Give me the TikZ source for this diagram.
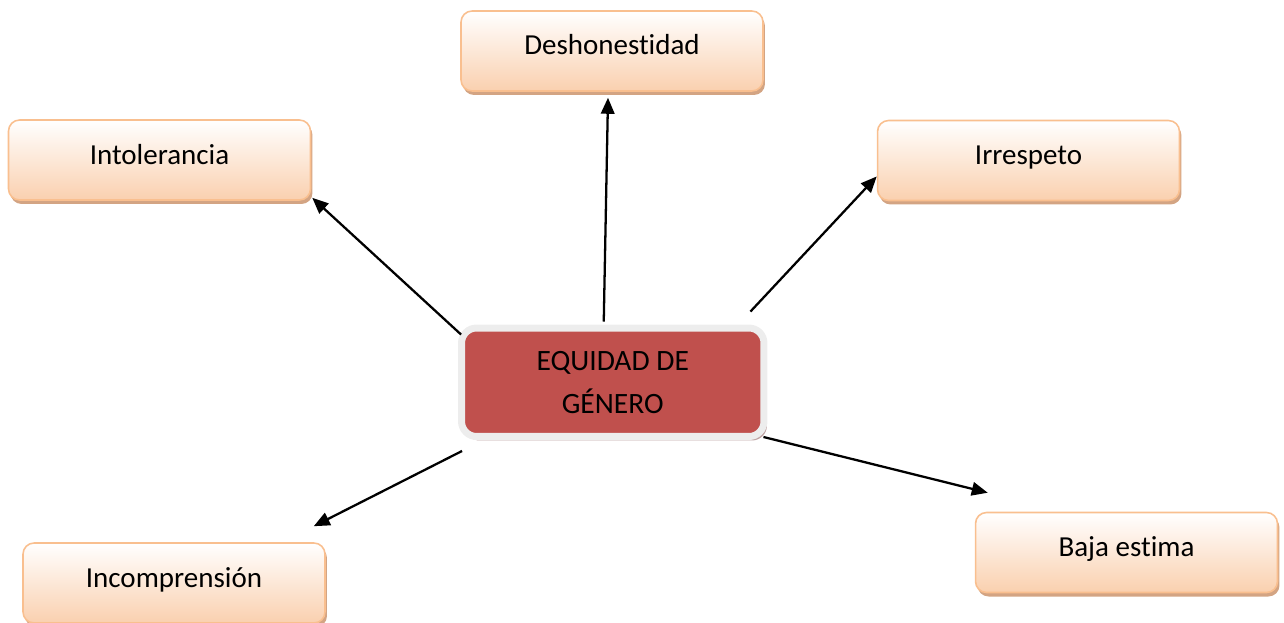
\documentclass[tikz,border=0pt]{standalone}
\usepackage{fontspec}
\setmainfont{Carlito}[Ligatures=NoCommon]
\usetikzlibrary{
	arrows.meta,
	shadows
}
\definecolor{peach}{HTML}{FAD0AF}
\definecolor{peachline}{HTML}{F9BF8F}
\definecolor{peachshadow}{HTML}{D3A483}
\definecolor{corered}{HTML}{C0504D}
\definecolor{coreshadow}{HTML}{BFA3A3}

\begin{document}
\begin{tikzpicture}[
	x = 0.02cm, y = -0.02cm,
	effect/.style = {
		rectangle, draw=peachline, line width=0.9pt,
		rounded corners=0.22cm,
		top color=white, bottom color=peach,
		minimum width=6.04cm, minimum height=1.6cm,
		text height=0.5cm, text depth=0.34cm,
		font=\fontsize{16.5}{20}\selectfont,
		drop shadow={shadow xshift=0.04cm, shadow yshift=-0.08cm,
			fill=peachshadow, opacity=1}
	},
	core/.style = {
		rectangle, draw=black!7, line width=0.14cm,
		rounded corners=0.3cm, fill=corered,
		minimum width=6.05cm, minimum height=2.17cm,
		align=center,
		font=\fontsize{16.8}{24.5}\selectfont,
		drop shadow={shadow xshift=0.06cm, shadow yshift=-0.08cm,
			fill=coreshadow, opacity=1}
	},
	arr/.style = {
		-{Triangle[length=0.32cm, width=0.27cm]}, line width=1.3pt
	}
]
	\useasboundingbox (0,0) rectangle (1284,622);

	\node [core] (eq) at (612.75,382.25) {EQUIDAD DE\\GÉNERO};

	\node [effect] (desh)   at (612,51)      {Deshonestidad};
	\node [effect] (intol)  at (159.5,160)   {Intolerancia};
	\node [effect] (irr)    at (1028.5,160.5) {Irrespeto};
	\node [effect] (incomp) at (174,583)     {Incomprensión};
	\node [effect] (baja)   at (1126.5,552.5) {Baja estima};

	\draw [arr] ([shift={(-9,-3)}]eq.north) -- ([shift={(-4,6)}]desh.south);
	\draw [arr] ([shift={(3,10)}]eq.north west) -- ([shift={(1,-3)}]intol.south east);
	\draw [arr] ([shift={(-17,-13)}]eq.north east) -- (irr.186);
	\draw [arr] ([shift={(4,11)}]eq.south west) -- ([shift={(-12,-16)}]incomp.north east);
	\draw [arr] ([shift={(-4,-3)}]eq.south east) -- ([shift={(13,-19)}]baja.north west);
\end{tikzpicture}
\end{document}
